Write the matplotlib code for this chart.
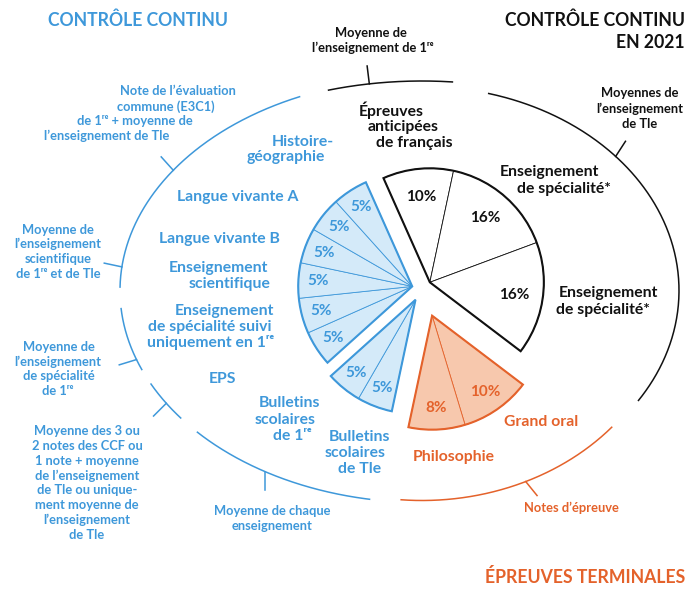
import numpy as np
import matplotlib.pyplot as plt

plt.rcParams['font.family'] = ['Lato', 'DejaVu Sans']

W, H = 700, 595
BLUE = "#3e98da"
BLUE_FILL = "#d4eaf9"
ORANGE = "#e4622b"
ORANGE_FILL = "#f7c8ad"
BLACK = "#111111"

# weight of each part of the final mark (%), clockwise from the top
black_parts = [10, 16, 16]        # français anticipé, spécialité, spécialité
orange_parts = [10, 8]            # grand oral, philosophie
blue_bottom_parts = [5, 5]        # bulletins Tle, bulletins 1re
blue_top_parts = [5, 5, 5, 5, 5, 5]

START = 114          # angle where the first black slice starts
R = 114              # pie radius (px)
C = (422, H - 288.5)  # common pie centre
E = (422, H - 290.5)  # centre of the outer arcs

fig = plt.figure(figsize=(7, 5.95), dpi=100)
ax = fig.add_axes([0, 0, 1, 1])


def draw_group(parts, start, offset, face, edge, pct_color, pctdist):
    fr = np.array(parts) / 100
    mid = np.deg2rad(start - 180 * fr.sum())
    cx = C[0] + offset * np.cos(mid)
    cy = C[1] + offset * np.sin(mid)
    ax.pie(fr, startangle=start, counterclock=False, normalize=False,
           center=(cx, cy), radius=R, colors=[face] * len(parts),
           wedgeprops=dict(edgecolor=edge, linewidth=0.6),
           autopct=lambda p: f"{p:.0f}%", pctdistance=pctdist,
           textprops=dict(color=pct_color, fontsize=11, fontweight='bold'))
    ax.pie([fr.sum()], startangle=start, counterclock=False, normalize=False,
           center=(cx, cy), radius=R, colors=['none'],
           wedgeprops=dict(edgecolor=edge, linewidth=1.5, fill=False,
                           joinstyle='miter'))
    return start - 360 * fr.sum()


a = draw_group(black_parts, START, 10, 'white', BLACK, BLACK, 0.75)
a = draw_group(orange_parts, a, 29, ORANGE_FILL, ORANGE, ORANGE, 0.81)
a = draw_group(blue_bottom_parts, a, 13, BLUE_FILL, BLUE, BLUE, 0.83)
a = draw_group(blue_top_parts, a, 10, BLUE_FILL, BLUE, BLUE, 0.83)


def ell(a_, b_, th):
    th = np.deg2rad(th)
    r = a_ * b_ / np.sqrt((b_ * np.cos(th)) ** 2 + (a_ * np.sin(th)) ** 2)
    return E[0] + r * np.cos(th), E[1] + r * np.sin(th)


def arc(a_, b_, segs, ticks, color):
    for t1, t2 in segs:
        x, y = ell(a_, b_, np.linspace(t1, t2, 200))
        ax.plot(x, y, color=color, lw=1.1, solid_capstyle='butt')
    for t, d in ticks:
        x, y = ell(a_, b_, t)
        d = np.deg2rad(d)
        ax.plot([x, x + 18 * np.cos(d)], [y, y + 18 * np.sin(d)],
                color=color, lw=1.1)


arc(302, 212, [(122.1, 179.5), (183.3, 195.9), (198.9, 208.0), (212.1, 256.1)],
    [(154.2, 132), (175.5, 168), (193.6, 197), (203.8, 225), (229.2, 270)], BLUE)
arc(257, 204, [(71.5, -27.1)], [(34.7, 57)], BLACK)
arc(250, 210, [(-35.6, -95.9)], [(-61.5, -51)], ORANGE)
arc(320, 209.5, [(115.2, 81.5)], [(104.3, 97)], BLACK)

STYLE = {
    'title': dict(fontsize=12.7, fontweight='bold'),
    'head': dict(fontsize=11.3, fontweight='bold'),
    'note': dict(fontsize=9.3, fontweight='bold'),
}

titles = [
    ("CONTRÔLE CONTINU", 48, 20, BLUE, 'left'),
    ("CONTRÔLE CONTINU", 685, 20, BLACK, 'right'),
    ("EN 2021", 685, 42, BLACK, 'right'),
    ("ÉPREUVES TERMINALES", 685, 577, ORANGE, 'right'),
]
for s, x, y, c, ha in titles:
    ax.text(x, H - y, s, color=c, ha=ha, va='center', **STYLE['title'])

lines = [
    # black
    ("Moyenne de", 371, 33, BLACK, 'note'),
    ("l’enseignement de 1ʳᵉ", 373, 48, BLACK, 'note'),
    ("Moyennes de", 640, 93, BLACK, 'note'),
    ("l’enseignement", 640, 109, BLACK, 'note'),
    ("de Tle", 640, 124, BLACK, 'note'),
    ("Épreuves", 391, 110, BLACK, 'head'),
    ("anticipées", 403, 127, BLACK, 'head'),
    ("de français", 414, 143, BLACK, 'head'),
    ("Enseignement", 549, 172, BLACK, 'head'),
    ("de spécialité*", 564, 189, BLACK, 'head'),
    ("Enseignement", 608, 293, BLACK, 'head'),
    ("de spécialité*", 603, 310, BLACK, 'head'),
    # blue
    ("Histoire-", 303, 142, BLUE, 'head'),
    ("géographie", 286, 157, BLUE, 'head'),
    ("Langue vivante A", 238, 197, BLUE, 'head'),
    ("Langue vivante B", 219, 239, BLUE, 'head'),
    ("Enseignement", 218, 268, BLUE, 'head'),
    ("scientifique", 230, 284, BLUE, 'head'),
    ("Enseignement", 224, 311, BLUE, 'head'),
    ("de spécialité suivi", 210, 327, BLUE, 'head'),
    ("uniquement en 1ʳᵉ", 211, 343, BLUE, 'head'),
    ("EPS", 222, 379, BLUE, 'head'),
    ("Bulletins", 290, 403, BLUE, 'head'),
    ("scolaires", 285, 420, BLUE, 'head'),
    ("de 1ʳᵉ", 292, 436, BLUE, 'head'),
    ("Bulletins", 360, 437, BLUE, 'head'),
    ("scolaires", 355, 453, BLUE, 'head'),
    ("de Tle", 360, 469, BLUE, 'head'),
    ("Note de l’évaluation", 178, 91, BLUE, 'note'),
    ("commune (E3C1)", 166, 107, BLUE, 'note'),
    ("de 1ʳᵉ + moyenne de", 135, 121, BLUE, 'note'),
    ("l’enseignement de Tle", 107, 136, BLUE, 'note'),
    ("Moyenne de", 58, 230, BLUE, 'note'),
    ("l’enseignement", 58, 244, BLUE, 'note'),
    ("scientifique", 58, 259, BLUE, 'note'),
    ("de 1ʳᵉ et de Tle", 58, 274, BLUE, 'note'),
    ("Moyenne de", 59, 347, BLUE, 'note'),
    ("l’enseignement", 58, 362, BLUE, 'note'),
    ("de spécialité", 59, 376, BLUE, 'note'),
    ("de 1ʳᵉ", 58, 391, BLUE, 'note'),
    ("Moyenne des 3 ou", 87, 431, BLUE, 'note'),
    ("2 notes des CCF ou", 87, 446, BLUE, 'note'),
    ("1 note + moyenne", 87, 461, BLUE, 'note'),
    ("de l’enseignement", 87, 476, BLUE, 'note'),
    ("de Tle ou unique-", 87, 490, BLUE, 'note'),
    ("ment moyenne de", 87, 505, BLUE, 'note'),
    ("l’enseignement", 87, 520, BLUE, 'note'),
    ("de Tle", 87, 535, BLUE, 'note'),
    ("Moyenne de chaque", 272, 511, BLUE, 'note'),
    ("enseignement", 272, 526, BLUE, 'note'),
    # orange
    ("Grand oral", 541, 422, ORANGE, 'head'),
    ("Philosophie", 454, 457, ORANGE, 'head'),
    ("Notes d’épreuve", 571, 508, ORANGE, 'note'),
]
for s, x, y, c, st in lines:
    ax.text(x, H - y, s, color=c, ha='center', va='center', **STYLE[st])

ax.set_xlim(0, W)
ax.set_ylim(0, H)
ax.set_aspect('equal')
ax.axis('off')
fig.savefig("out.png", dpi=100, facecolor='white')
